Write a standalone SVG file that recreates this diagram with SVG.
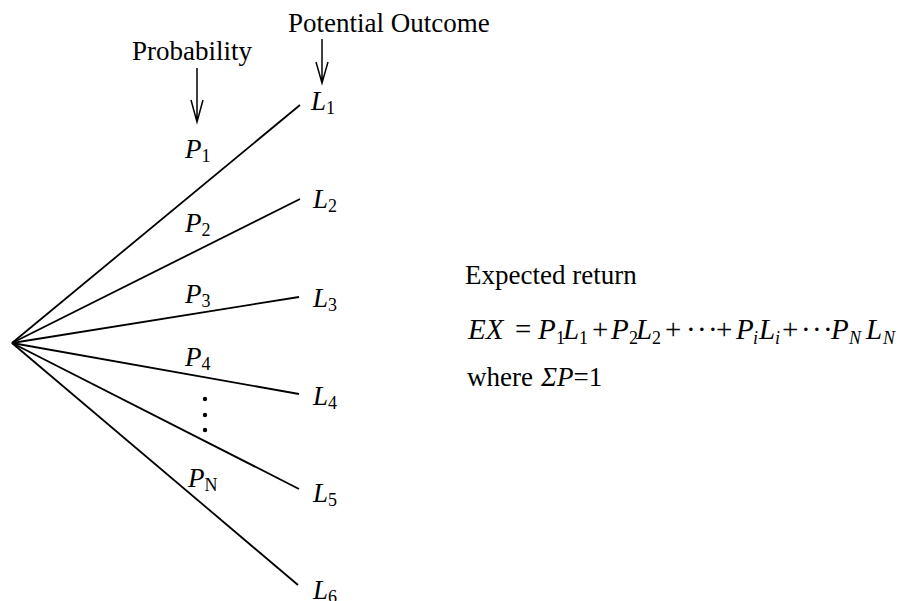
<svg xmlns="http://www.w3.org/2000/svg" width="916" height="601" viewBox="0 0 916 601">
<style>
text{font-family:"Liberation Serif","Times New Roman",serif;fill:#000}
.t{font-size:27px}
.v{font-size:27px;font-style:italic}
.s{font-size:18px;font-style:normal}
.e{font-size:29px}
.i{font-style:italic}
.es{font-size:18px;font-style:normal}
.esi{font-size:18px;font-style:italic}
.ln{stroke:#000;stroke-width:1.8;fill:none}
.ar{stroke:#000;stroke-width:1.5;fill:none}
</style>
<rect width="916" height="601" fill="#fff"/>
<g id="connectors">
<line class="ln" x1="12" y1="343" x2="300" y2="105"/>
<line class="ln" x1="12" y1="343" x2="300" y2="199"/>
<line class="ln" x1="12" y1="343" x2="299" y2="297"/>
<line class="ln" x1="12" y1="343" x2="299" y2="394"/>
<line class="ln" x1="12" y1="343" x2="299" y2="489"/>
<line class="ln" x1="12" y1="343" x2="298" y2="585"/>
<path class="ar" d="M197 68 V122 M191 100 L197 122 L203 100"/>
<path class="ar" d="M322 39 V83 M316 62 L322 83 L328 62"/>
</g>
<g id="header-probability"><text class="t" x="132" y="60">Probability</text></g>
<g id="header-outcome"><text class="t" x="288" y="32">Potential Outcome</text></g>
<g id="outcomes">
<text class="v" x="311" y="110">L<tspan class="s" dy="4">1</tspan></text>
<text class="v" x="313" y="208">L<tspan class="s" dy="4">2</tspan></text>
<text class="v" x="313" y="307">L<tspan class="s" dy="4">3</tspan></text>
<text class="v" x="313" y="405">L<tspan class="s" dy="4">4</tspan></text>
<text class="v" x="313" y="502">L<tspan class="s" dy="4">5</tspan></text>
<text class="v" x="313" y="599">L<tspan class="s" dy="4">6</tspan></text>
</g>
<g id="probabilities">
<text class="v" x="185" y="158">P<tspan class="s" dy="4">1</tspan></text>
<text class="v" x="185" y="232">P<tspan class="s" dy="4">2</tspan></text>
<text class="v" x="185" y="303">P<tspan class="s" dy="4">3</tspan></text>
<text class="v" x="185" y="366">P<tspan class="s" dy="4">4</tspan></text>
<text class="v" x="188" y="487">P<tspan class="s" dy="4">N</tspan></text>
<circle cx="205" cy="399" r="2.2"/>
<circle cx="205" cy="415" r="2.2"/>
<circle cx="205" cy="430" r="2.2"/>
</g>
<g id="formula">
<text class="t" x="465" y="284">Expected return</text>
<text class="e" y="339"><tspan class="i" x="468">EX</tspan><tspan x="515">=</tspan><tspan class="i" x="538">P</tspan><tspan class="es" x="556" dy="5">1</tspan><tspan class="i" x="563" dy="-5">L</tspan><tspan class="es" x="579" dy="5">1</tspan><tspan x="592" dy="-5">+</tspan><tspan class="i" x="611">P</tspan><tspan class="es" x="629" dy="5">2</tspan><tspan class="i" x="636" dy="-5">L</tspan><tspan class="es" x="652" dy="5">2</tspan><tspan x="665" dy="-5">+</tspan><tspan x="686">·</tspan><tspan x="697">·</tspan><tspan x="708">·</tspan><tspan x="716">+</tspan><tspan class="i" x="736">P</tspan><tspan class="esi" x="753" dy="5">i</tspan><tspan class="i" x="759" dy="-5">L</tspan><tspan class="esi" x="775" dy="5">i</tspan><tspan x="782" dy="-5">+</tspan><tspan x="801">·</tspan><tspan x="812">·</tspan><tspan x="823">·</tspan><tspan class="i" x="831">P</tspan><tspan class="esi" x="849" dy="5">N</tspan><tspan class="i" x="866" dy="-5">L</tspan><tspan class="esi" x="883" dy="5">N</tspan></text>
<text class="t" y="386"><tspan x="467">where</tspan><tspan class="i" x="541">ΣP</tspan><tspan>=1</tspan></text>
</g>
</svg>
